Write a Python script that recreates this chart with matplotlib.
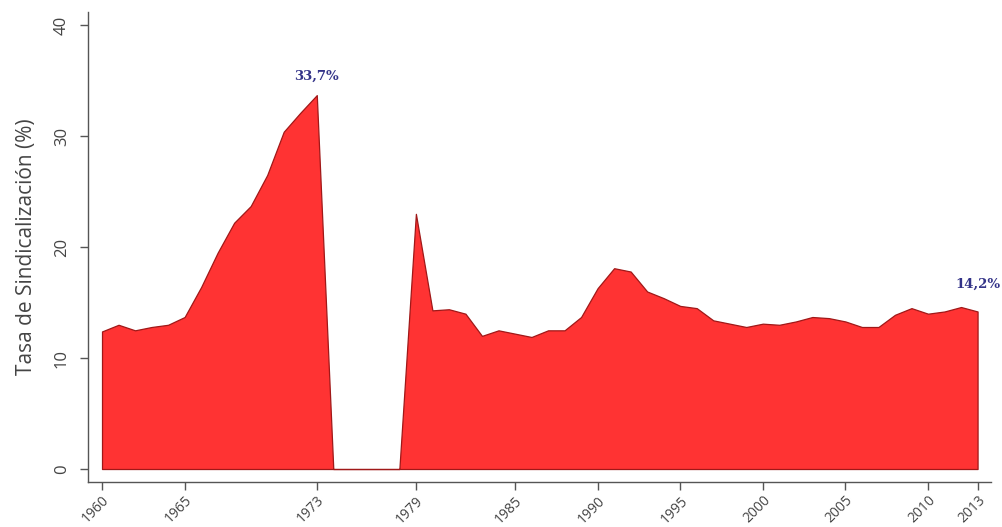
import numpy as np
import matplotlib
matplotlib.use('Agg')
import matplotlib.pyplot as plt

plt.rcParams['font.family'] = ['Open Sans', 'DejaVu Sans']

years = list(range(1960, 2014))
tasa = [12.4, 13.0, 12.5, 12.8, 13.0, 13.7, 16.4, 19.5, 22.2, 23.7,
        26.5, 30.4, 32.1, 33.7, 0.0, 0.0, 0.0, 0.0, 0.0, 23.0,
        14.3, 14.4, 14.0, 12.0, 12.5, 12.2, 11.9, 12.5, 12.5, 13.7,
        16.3, 18.1, 17.8, 16.0, 15.4, 14.7, 14.5, 13.4, 13.1, 12.8,
        13.1, 13.0, 13.3, 13.7, 13.6, 13.3, 12.8, 12.8, 13.9, 14.5,
        14.0, 14.2, 14.6, 14.2]
xticks = [1960, 1965, 1973, 1979, 1985, 1990, 1995, 2000, 2005, 2010, 2013]
yticks = [0, 10, 20, 30, 40]
etiquetas = [(1973, 33.7, '33,7%'), (2013, 14.2, '14,2%')]

fig = plt.figure(figsize=(10.02, 5.27), dpi=100)
ax = fig.add_axes([0.0878, 0.0854, 0.901, 0.892])

ax.fill_between(years, tasa, 0, facecolor='#ff3333', edgecolor='#a01818', linewidth=0.9)

ax.set_xlim(1959.15, 2013.8)
ax.set_ylim(-1.17, 41.2)
ax.set_xticks(xticks)
ax.set_xticklabels([str(t) for t in xticks], rotation=45, ha='right', rotation_mode='anchor',
                   fontsize=10, color='#444444')
ax.set_yticks(yticks)
ax.set_yticklabels([str(t) for t in yticks], rotation=90, va='center', fontsize=12, color='#444444')
ax.tick_params(axis='both', direction='out', length=6, width=1, color='#555555')
ax.tick_params(axis='x', pad=2)
ax.tick_params(axis='y', pad=7)

for s in ['top', 'right']:
    ax.spines[s].set_visible(False)
for s in ['left', 'bottom']:
    ax.spines[s].set_color('#555555')
    ax.spines[s].set_linewidth(1)

ax.set_ylabel('Tasa de Sindicalización (%)', fontsize=15, color='#444444', labelpad=12)

ax.annotate(etiquetas[0][2], (etiquetas[0][0], etiquetas[0][1]), xytext=(0, 9), textcoords='offset points',
            ha='center', va='bottom', fontsize=9.5, fontweight='bold', family='DejaVu Serif', color='#333388')
ax.annotate(etiquetas[1][2], (etiquetas[1][0], etiquetas[1][1]), xytext=(0, 15), textcoords='offset points',
            ha='center', va='bottom', fontsize=9.5, fontweight='bold', family='DejaVu Serif', color='#333388')

fig.savefig('out.png', dpi=100)
